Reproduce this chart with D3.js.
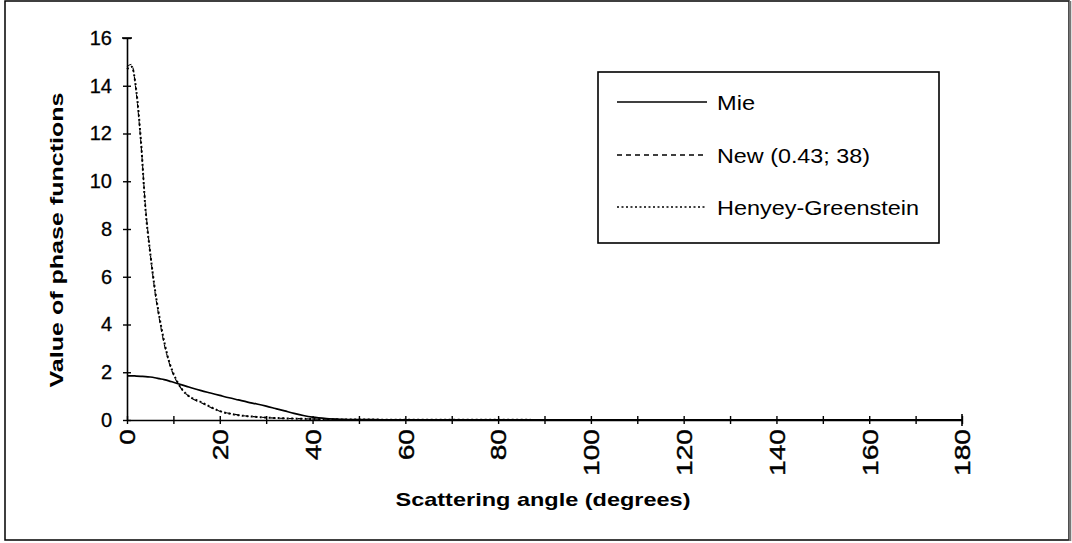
<!DOCTYPE html>
<html>
<head>
<meta charset="utf-8">
<script src="https://cdn.jsdelivr.net/npm/d3@7"></script>
<style>
  html, body { margin: 0; padding: 0; background: #fff; }
  svg { display: block; font-family: "Liberation Sans", Arial, Helvetica, sans-serif; }
</style>
</head>
<body>
<svg id="chart" width="1072" height="543"></svg>
<script>
// Scattering angles (degrees) at which the phase functions are sampled
const angles = [0, 1, 2, 3, 4, 5, 6, 7, 8, 9, 10, 11, 12, 13, 14, 16, 18, 20, 22, 24, 26, 28, 30, 32, 34, 36, 38, 40, 43, 46, 50, 55, 60, 70, 80, 90, 100, 110, 120, 130, 140, 150, 160, 170, 180];

// Mie phase function
const mie = [1.85, 1.85, 1.84, 1.83, 1.82, 1.80, 1.77, 1.73, 1.69, 1.64, 1.58, 1.52, 1.46, 1.40, 1.34, 1.23, 1.13, 1.03, 0.93, 0.84, 0.75, 0.67, 0.58, 0.48, 0.38, 0.28, 0.19, 0.12, 0.06, 0.03, 0.015, 0.01, 0.005, 0.004, 0.003, 0.002, 0.002, 0.002, 0.002, 0.002, 0.002, 0.002, 0.002, 0.002, 0.002];

// New phase function, parameters (0.43; 38)
const newFn = [14.8, 14.9, 13.7, 11.6, 8.9, 7.0, 5.4, 4.2, 3.2, 2.45, 1.9, 1.52, 1.24, 1.05, 0.9, 0.72, 0.53, 0.37, 0.28, 0.21, 0.16, 0.13, 0.1, 0.08, 0.07, 0.06, 0.05, 0.04, 0.03, 0.025, 0.02, 0.015, 0.01, 0.008, 0.006, 0.005, 0.004, 0.004, 0.003, 0.003, 0.003, 0.003, 0.003, 0.003, 0.003];

// Henyey-Greenstein phase function
const hg = [14.7, 14.8, 13.8, 11.7, 8.8, 7.0, 5.5, 4.3, 3.3, 2.5, 1.95, 1.55, 1.25, 1.05, 0.92, 0.75, 0.55, 0.37, 0.27, 0.2, 0.16, 0.13, 0.1, 0.085, 0.07, 0.06, 0.05, 0.04, 0.03, 0.025, 0.02, 0.015, 0.01, 0.008, 0.006, 0.005, 0.004, 0.004, 0.003, 0.003, 0.003, 0.003, 0.003, 0.003, 0.003];

const xTicks = [0, 20, 40, 60, 80, 100, 120, 140, 160, 180];
const xMinor = [10, 30, 50, 70, 90, 110, 130, 150, 170];
const yTicks = [0, 2, 4, 6, 8, 10, 12, 14, 16];

const seriesNames = ["Mie", "New (0.43; 38)", "Henyey-Greenstein"];
const seriesData = [mie, newFn, hg];
const seriesDash = [null, "5,4", "2,2.5"];
const seriesWidth = [1.7, 1.1, 2.0];

const svg = d3.select("#chart");

// outer frame
svg.append("rect").attr("x", 5).attr("y", 1).attr("width", 1064).attr("height", 539)
  .attr("fill", "none").attr("stroke", "#000").attr("stroke-width", 1.5);
svg.append("line").attr("x1", 1070).attr("x2", 1070).attr("y1", 1).attr("y2", 541)
  .attr("stroke", "#777").attr("stroke-width", 2.5);

const x = d3.scaleLinear().domain([0, 180]).range([127, 962]);
const y = d3.scaleLinear().domain([0, 16]).range([420, 38]);

// Y axis
const yAxis = d3.axisLeft(y).tickValues(yTicks).tickSize(4).tickSizeOuter(0).tickPadding(10);
const gy = svg.append("g").attr("transform", `translate(${x(0)},0)`).call(yAxis);
gy.select(".domain").attr("stroke", "#000").attr("stroke-width", 1.6);
gy.selectAll(".tick line").attr("x2", 8).attr("transform", "translate(-4,0)")
  .attr("stroke", "#000").attr("stroke-width", 1.4);
gy.selectAll(".tick text").attr("font-size", 20).attr("fill", "#000")
  .attr("font-family", "'Liberation Sans', Arial, sans-serif").attr("x", -15)
  .attr("stroke", "#000").attr("stroke-width", 0.3);

// X axis (major ticks labelled, minor ticks between)
const xAxis = d3.axisBottom(x).tickValues(xTicks.concat(xMinor)).tickSize(4).tickSizeOuter(0)
  .tickFormat(d => xTicks.includes(d) ? d : "");
const gx = svg.append("g").attr("transform", `translate(0,${y(0)})`).call(xAxis);
gx.select(".domain").attr("stroke", "#000").attr("stroke-width", 1.6);
gx.selectAll(".tick line").attr("y2", 8).attr("transform", "translate(0,-4)")
  .attr("stroke", "#000").attr("stroke-width", 1.4);
gx.selectAll(".tick text")
  .attr("font-size", 22).attr("fill", "#000")
  .attr("font-family", "'Liberation Sans', Arial, sans-serif")
  .attr("stroke", "#000").attr("stroke-width", 0.4)
  .attr("text-anchor", "end").attr("dy", null).attr("y", 0)
  .attr("dominant-baseline", "central")
  .attr("transform", "translate(0,9) rotate(-90) scale(1.28,1)");

// end caps on axes
svg.append("line").attr("x1", x(0) - 5).attr("x2", x(0) + 5).attr("y1", y(16)).attr("y2", y(16))
  .attr("stroke", "#000").attr("stroke-width", 1.6);
svg.append("line").attr("x1", x(180)).attr("x2", x(180)).attr("y1", y(0) - 6).attr("y2", y(0) + 6)
  .attr("stroke", "#000").attr("stroke-width", 1.6);

// Axis titles
svg.append("text")
  .attr("transform", `translate(63,240) rotate(-90)`)
  .attr("text-anchor", "middle")
  .attr("font-size", 19).attr("font-weight", "bold")
  .attr("textLength", 295).attr("lengthAdjust", "spacingAndGlyphs")
  .text("Value of phase functions");

svg.append("text")
  .attr("x", 543).attr("y", 506)
  .attr("text-anchor", "middle")
  .attr("font-size", 19).attr("font-weight", "bold")
  .attr("textLength", 295).attr("lengthAdjust", "spacingAndGlyphs")
  .text("Scattering angle (degrees)");

// Curves
const line = d3.line().x(d => x(d[0])).y(d => y(d[1])).curve(d3.curveMonotoneX);
seriesData.forEach((vals, i) => {
  svg.append("path")
    .datum(angles.map((a, j) => [a, vals[j]]))
    .attr("fill", "none").attr("stroke", "#000")
    .attr("stroke-width", seriesWidth[i])
    .attr("stroke-dasharray", seriesDash[i])
    .attr("d", line);
});

// Legend
const legend = svg.append("g");
legend.append("rect").attr("x", 598).attr("y", 72).attr("width", 341).attr("height", 171)
  .attr("fill", "#fff").attr("stroke", "#000").attr("stroke-width", 1.6);
const legendY = [102, 155, 207];
const legendW = [38, 153, 202];
seriesNames.forEach((name, i) => {
  legend.append("line").attr("x1", 617).attr("x2", 707)
    .attr("y1", legendY[i]).attr("y2", legendY[i])
    .attr("stroke", "#000").attr("stroke-width", 1.6)
    .attr("stroke-dasharray", seriesDash[i]);
  legend.append("text").attr("x", 717).attr("y", legendY[i] + 8)
    .attr("font-size", 21)
    .attr("textLength", legendW[i]).attr("lengthAdjust", "spacingAndGlyphs")
    .text(name);
});
</script>
</body>
</html>
